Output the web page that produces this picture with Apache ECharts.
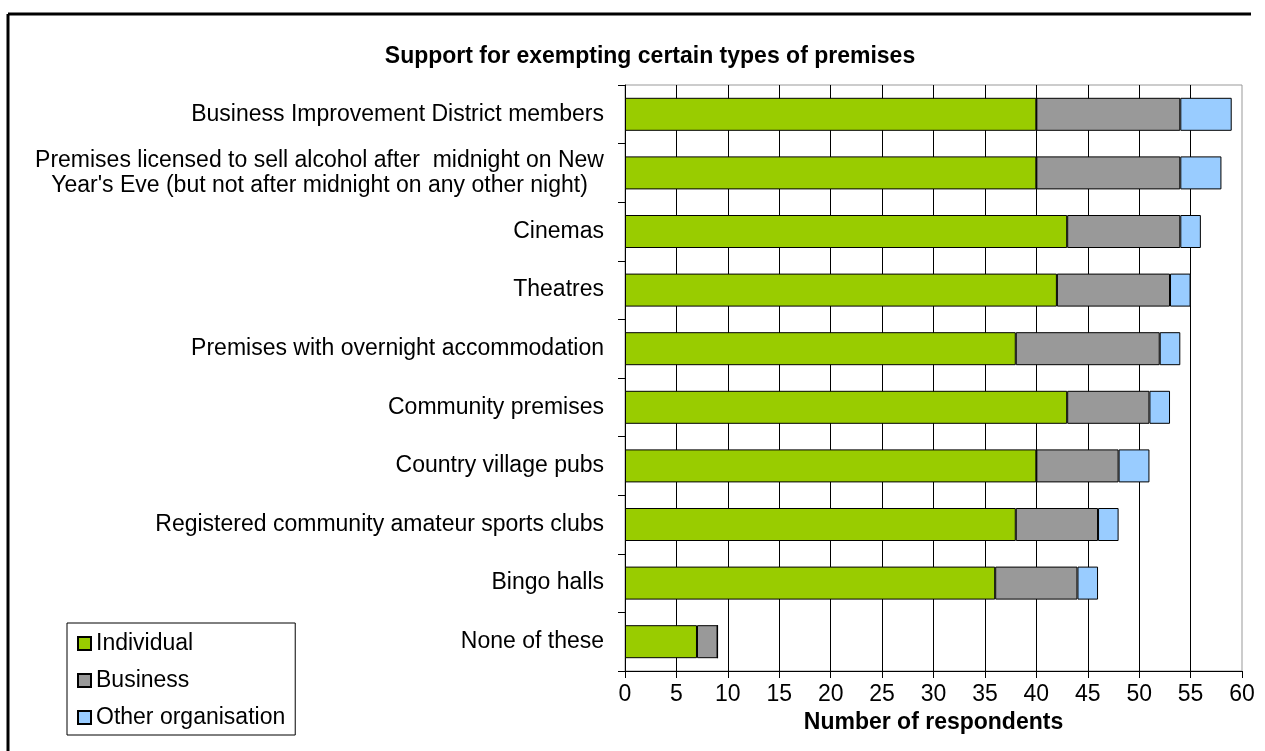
<!DOCTYPE html>
<html>
<head>
<meta charset="utf-8">
<script src="https://cdn.jsdelivr.net/npm/echarts@6/dist/echarts.min.js"></script>
<style>html,body{margin:0;padding:0;background:#fff}#c{width:1265px;height:751px}</style>
</head>
<body>
<div id="c"></div>
<script>
const categories = [
  "Business Improvement District members",
  "Premises licensed to sell alcohol after  midnight on New\nYear's Eve (but not after midnight on any other night)",
  "Cinemas",
  "Theatres",
  "Premises with overnight accommodation",
  "Community premises",
  "Country village pubs",
  "Registered community amateur sports clubs",
  "Bingo halls",
  "None of these"
];
const individual = [40, 40, 43, 42, 38, 43, 40, 38, 36, 7];
const business   = [14, 14, 11, 11, 14, 8, 8, 8, 8, 2];
const otherOrg   = [5, 4, 2, 2, 2, 2, 3, 2, 2, 0];
const seriesNames = ["Individual", "Business", "Other organisation"];
const xTicks = [0, 5, 10, 15, 20, 25, 30, 35, 40, 45, 50, 55, 60];

const FONT = '"Liberation Sans", Arial, sans-serif';
const FS = 23;
const colors = ['#99CC00', '#999999', '#99CCFF'];

// width of widest line of multi-line labels (for centred multi-line text)
const ctx = document.createElement('canvas').getContext('2d');
ctx.font = FS + 'px ' + FONT;
function maxLineWidth(s) {
  return Math.ceil(Math.max.apply(null, s.split('\n').map(l => ctx.measureText(l).width)));
}

const chart = echarts.init(document.getElementById('c'), null, {renderer: 'canvas'});
const mk = (name, data, color) => ({
  name, type: 'bar', stack: 'total', data,
  barWidth: 33,
  itemStyle: {color, borderColor: '#000', borderWidth: 1},
  emphasis: {disabled: true}
});
const richStyles = {};
categories.forEach((c, i) => {
  if (c.indexOf('\n') >= 0) {
    richStyles['c' + i] = {fontFamily: FONT, fontSize: FS, color: '#000', lineHeight: 25, width: maxLineWidth(c), align: 'center'};
  }
});
chart.setOption({
  animation: false,
  textStyle: {fontFamily: FONT},
  title: {
    text: 'Support for exempting certain types of premises',
    left: 645, top: 40, textAlign: 'center',
    textStyle: {fontFamily: FONT, fontSize: FS, fontWeight: 'bold', color: '#000'}
  },
  legend: {
    orient: 'vertical', left: 67, top: 623,
    padding: [9, 10, 6, 10],
    itemWidth: 13, itemHeight: 13, itemGap: 14, itemTextGap: 8,
    borderColor: '#000', borderWidth: 1,
    icon: 'rect',
    textStyle: {fontFamily: FONT, fontSize: FS, color: '#000'},
    data: seriesNames
  },
  grid: {
    left: 625, right: 23, top: 85, bottom: 80,
    show: true, borderColor: '#999', borderWidth: 1, containLabel: false
  },
  xAxis: {
    type: 'value', min: xTicks[0], max: xTicks[xTicks.length - 1], interval: 5,
    name: 'Number of respondents', nameLocation: 'middle', nameGap: 35,
    nameTextStyle: {fontFamily: FONT, fontSize: FS, fontWeight: 'bold', color: '#000'},
    axisLine: {show: true, lineStyle: {color: '#000', width: 1}},
    axisTick: {show: true, length: 7, lineStyle: {color: '#000'}},
    axisLabel: {fontFamily: FONT, fontSize: FS, color: '#000', margin: 12},
    splitLine: {show: true, showMinLine: false, showMaxLine: false, lineStyle: {color: '#000', width: 1}}
  },
  yAxis: {
    type: 'category', data: categories, inverse: true,
    axisLine: {show: true, lineStyle: {color: '#000', width: 1}},
    axisTick: {show: true, length: 7, lineStyle: {color: '#000'}},
    axisLabel: {
      fontFamily: FONT, fontSize: FS, color: '#000', margin: 21, lineHeight: 25,
      formatter: function (v, i) {
        if (v.indexOf('\n') >= 0) {
          return v.split('\n').map(s => '{c' + i + '|' + s + '}').join('\n');
        }
        return v;
      },
      rich: richStyles
    },
    splitLine: {show: false}
  },
  series: [
    mk(seriesNames[0], individual, colors[0]),
    mk(seriesNames[1], business, colors[1]),
    mk(seriesNames[2], otherOrg, colors[2])
  ],
  graphic: [
    {type: 'line', shape: {x1: 8, y1: 14, x2: 1251, y2: 14}, style: {stroke: '#000', lineWidth: 3}, silent: true},
    {type: 'line', shape: {x1: 8, y1: 14, x2: 8, y2: 751}, style: {stroke: '#000', lineWidth: 3}, silent: true}
  ]
});
</script>
</body>
</html>
